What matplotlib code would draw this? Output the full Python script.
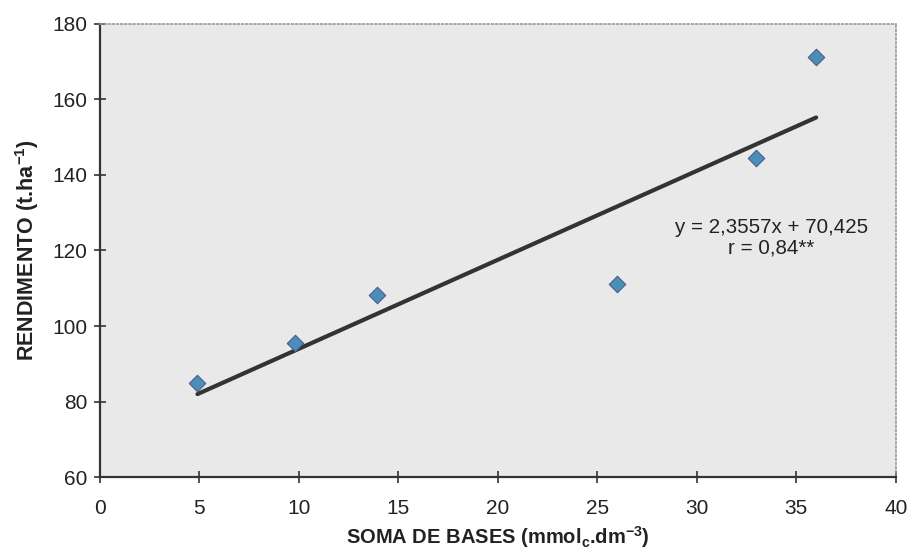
import matplotlib
matplotlib.use("Agg")
import matplotlib.pyplot as plt
import numpy as np

plt.rcParams['font.family'] = ['Liberation Sans', 'DejaVu Sans']
plt.rcParams['mathtext.fontset'] = 'custom'
plt.rcParams['mathtext.rm'] = 'Liberation Sans'
plt.rcParams['mathtext.bf'] = 'Liberation Sans:bold'
plt.rcParams['mathtext.it'] = 'Liberation Sans:italic'
plt.rcParams['hatch.color'] = '#c8c8c8'
plt.rcParams['hatch.linewidth'] = 0.6

soma_bases = [4.9, 9.8, 13.9, 26.0, 33.0, 36.0]
rendimento = [84.8, 95.6, 108.2, 111.0, 144.4, 171.3]
slope = 2.3557
intercept = 70.425
x_ticks = [0, 5, 10, 15, 20, 25, 30, 35, 40]
y_ticks = [60, 80, 100, 120, 140, 160, 180]

fig = plt.figure(figsize=(9.14, 5.55), dpi=100)
ax = fig.add_axes([0.1094, 0.1405, 0.8706, 0.8163])
ax.set_facecolor('#e9e9e9')

xl = np.array([min(soma_bases), max(soma_bases)])
ax.plot(xl, slope * xl + intercept, color='#333333', lw=3, solid_capstyle='round', zorder=3)
ax.scatter(soma_bases, rendimento, marker='D', s=70, color='#4a8fb8',
           edgecolor='#4a5a90', linewidth=0.8, zorder=4)

ax.set_xlim(0, 40)
ax.set_ylim(60, 180)
ax.set_xticks(x_ticks)
ax.set_yticks(y_ticks)
ax.tick_params(axis='both', direction='inout', length=8, width=1.2, color='#333333',
               labelsize=15, labelcolor='#222222')
ax.tick_params(axis='x', pad=12)
ax.tick_params(axis='y', pad=5)

for s in ['left', 'bottom']:
    ax.spines[s].set_color('#333333')
    ax.spines[s].set_linewidth(1.6)
for s in ['top', 'right']:
    ax.spines[s].set_color('#999999')
    ax.spines[s].set_linestyle((0, (1, 1.5)))
    ax.spines[s].set_linewidth(1.2)

ax.set_xlabel(r'SOMA DE BASES (mmol$_{\mathbf{c}}$.dm$^{\mathbf{-3}}$)', fontsize=14.5,
              fontweight='bold', color='#222222', labelpad=4)
ax.set_ylabel(r'RENDIMENTO (t.ha$^{\mathbf{-1}}$)', fontsize=15.5, fontweight='bold',
              color='#222222', labelpad=8)

ax.text(33.75, 126.0, f'y = {str(slope).replace(".", ",")}x + {str(intercept).replace(".", ",")}',
        ha='center', va='center', fontsize=14.8, color='#222222')
ax.text(33.75, 120.6, 'r = 0,84**', ha='center', va='center', fontsize=14.8, color='#222222')

fig.savefig('out.png', dpi=100)
